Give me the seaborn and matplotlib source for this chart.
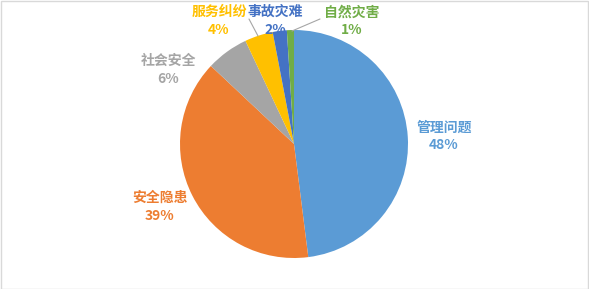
import matplotlib
matplotlib.use("Agg")
import matplotlib.pyplot as plt
import seaborn as sns
from matplotlib.patches import Rectangle

categories = ["管理问题", "安全隐患", "社会安全", "服务纠纷", "事故灾难", "自然灾害"]
values = [48, 39, 6, 4, 2, 1]
pct_labels = ["48%", "39%", "6%", "4%", "2%", "1%"]
colors = ["#5B9BD5", "#ED7D31", "#A5A5A5", "#FFC000", "#4472C4", "#70AD47"]

sns.set_style("white")
plt.rcParams["font.family"] = ["Noto Sans CJK SC", "DejaVu Sans"]

W, H = 589, 289
fig = plt.figure(figsize=(W / 100, H / 100), dpi=100)
ax = fig.add_axes([0, 0, 1, 1])

cx, cy, r = 294, H - 144, 114
wedges, _ = ax.pie(values, colors=sns.color_palette(colors), startangle=90,
                   counterclock=False, center=(cx, cy), radius=r,
                   wedgeprops=dict(linewidth=0), frame=True)
ax.set_xlim(0, W)
ax.set_ylim(0, H)
ax.set_aspect("equal")
ax.axis("off")

# label positions (pixel layout, y from top)
label_pos = [(444, 136), (160, 207), (168, 70), (219, 21), (275, 21), (352, 21)]
for (lx, ly), name, pct, col in zip(label_pos, categories, pct_labels, colors):
    ax.text(lx, H - ly, f"{name}\n{pct}", ha="center", va="center", color=col,
            fontsize=10, fontweight="bold", linespacing=1.32)

# leader lines
ax.plot([249, 258], [H - 19, H - 36], color="#A6A6A6", lw=0.8)
ax.plot([320, 292], [H - 19, H - 31], color="#A6A6A6", lw=0.8)

fig.patches.append(Rectangle((0.5 / W, 0.5 / H), 1 - 1.5 / W, 1 - 1.5 / H,
                             transform=fig.transFigure, fill=False,
                             edgecolor="#D9D9D9", lw=1))
fig.savefig("out.png", dpi=100, facecolor="white")
